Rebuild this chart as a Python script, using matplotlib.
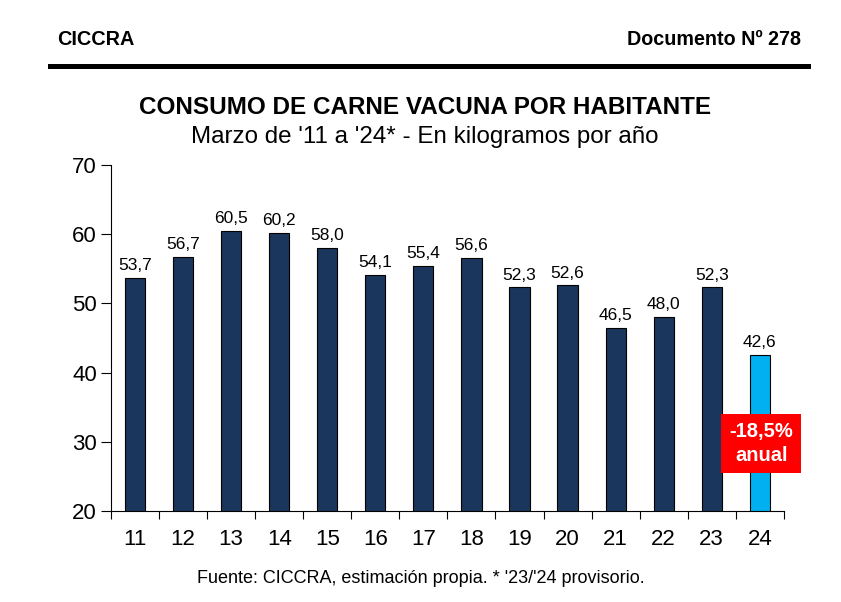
import matplotlib.pyplot as plt
from matplotlib.lines import Line2D

plt.rcParams['font.family'] = ['Liberation Sans', 'DejaVu Sans']

years = ['11', '12', '13', '14', '15', '16', '17', '18', '19', '20', '21', '22', '23', '24']
consumo = [53.7, 56.7, 60.5, 60.2, 58.0, 54.1, 55.4, 56.6, 52.3, 52.6, 46.5, 48.0, 52.3, 42.6]
bar_colors = ['#1B365D'] * 13 + ['#00B0F0']
variacion = '-18,5%\nanual'


def main():
    fig = plt.figure(figsize=(8.41, 6.02), dpi=100)
    ax = fig.add_axes([0.132, 0.151, 0.8, 0.575])

    x = range(len(years))
    ax.bar(x, consumo, width=0.42, color=bar_colors, edgecolor='black', linewidth=0.8, zorder=2)

    for i, v in enumerate(consumo):
        ax.text(i, v + 0.7, f"{v:.1f}".replace('.', ','), ha='center', va='bottom', fontsize=12.5)

    ax.set_ylim(20, 70)
    ax.set_xlim(-0.5, len(years) - 0.5)
    ax.set_yticks(range(20, 71, 10))
    ax.tick_params(axis='y', labelsize=16, length=7, direction='out', width=0.8, pad=3)

    # category ticks sit between the bars
    ax.set_xticks([i + 0.5 for i in range(-1, len(years))], minor=False)
    ax.set_xticklabels([])
    ax.set_xticks(list(x), minor=True)
    ax.set_xticklabels(years, minor=True)
    ax.tick_params(axis='x', which='major', length=6, direction='out', width=0.8)
    ax.tick_params(axis='x', which='minor', length=0, labelsize=16, pad=13)

    ax.spines['top'].set_visible(False)
    ax.spines['right'].set_visible(False)
    ax.spines['left'].set_linewidth(0.8)
    ax.spines['bottom'].set_linewidth(0.8)

    # red annotation box on the last bar
    ax.text(13.03, 29.8, variacion, ha='center', va='center', fontsize=14.5,
            fontweight='bold', color='white', linespacing=1.3,
            bbox=dict(boxstyle='square,pad=0.4', facecolor='#FF0000', edgecolor='none'),
            zorder=3)

    # header
    fig.text(0.068, 0.934, 'CICCRA', fontsize=14.3, fontweight='bold', va='center', ha='left')
    fig.text(0.952, 0.934, 'Documento Nº 278', fontsize=14.2, fontweight='bold', va='center', ha='right')
    fig.add_artist(Line2D([0.059, 0.961], [0.891, 0.891], color='black', linewidth=3.6))

    fig.text(0.506, 0.821, 'CONSUMO DE CARNE VACUNA POR HABITANTE', fontsize=17.5,
             fontweight='bold', ha='center', va='center')
    fig.text(0.505, 0.772, "Marzo de '11 a '24* - En kilogramos por año", fontsize=17.4,
             ha='center', va='center')

    fig.text(0.5, 0.039, "Fuente: CICCRA, estimación propia. * '23/'24 provisorio.",
             fontsize=13, ha='center', va='center')

    plt.savefig('out.png', dpi=100)


if __name__ == '__main__':
    main()
